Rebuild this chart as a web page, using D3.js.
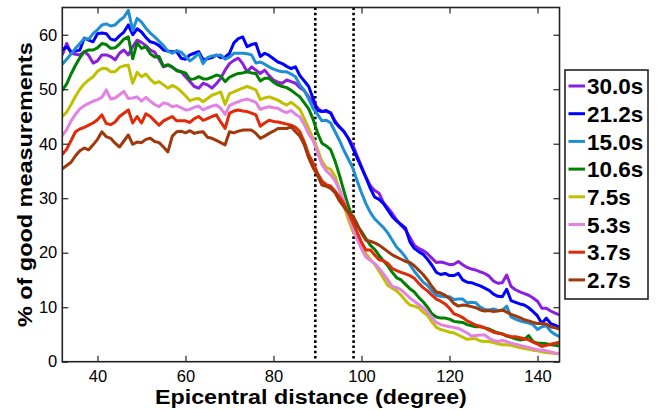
<!DOCTYPE html>
<html>
<head>
<meta charset="utf-8">
<script src="https://cdn.jsdelivr.net/npm/d3@7/dist/d3.min.js"></script>
<style>
	html, body { margin: 0; padding: 0; background: #fff; }
	svg { display: block; font-family: "Liberation Sans", Arial, sans-serif; }
	.tick text { font-size: 16.5px; fill: #000; }
	.tick line { stroke: #222; stroke-width: 1.2; }
</style>
</head>
<body>
<div id="chart"></div>
<script>
	// epicentral distance (degree), one bin per degree
	var distance = [
		32, 33, 34, 35, 36, 37, 38, 39, 40, 41,
		42, 43, 44, 45, 46, 47, 48, 49, 50, 51,
		52, 53, 54, 55, 56, 57, 58, 59, 60, 61,
		62, 63, 64, 65, 66, 67, 68, 69, 70, 71,
		72, 73, 74, 75, 76, 77, 78, 79, 80, 81,
		82, 83, 84, 85, 86, 87, 88, 89, 90, 91,
		92, 93, 94, 95, 96, 97, 98, 99, 100, 101,
		102, 103, 104, 105, 106, 107, 108, 109, 110, 111,
		112, 113, 114, 115, 116, 117, 118, 119, 120, 121,
		122, 123, 124, 125, 126, 127, 128, 129, 130, 131,
		132, 133, 134, 135, 136, 137, 138, 139, 140, 141,
		142, 143, 144, 145
	];

	var periods = ["30.0s", "21.2s", "15.0s", "10.6s", "7.5s", "5.3s", "3.7s", "2.7s"];
	var colors = ["#8a1fe0", "#0000ff", "#1f8fd2", "#008000", "#c0c000", "#e482e4", "#e02a08", "#a0380c"];

	var good30 = [
		56.3, 58.4, 56.6, 56.4, 56.3, 56.9, 56.2, 54.8, 55.2, 56.3,
		56.3, 56, 55.4, 56.6, 57.2, 56.3, 57.8, 59, 58.6, 58,
		57.2, 56.8, 55.5, 54.1, 54.4, 54, 53.5, 53.2, 52.3, 51.4,
		50.5, 50.2, 51.1, 50.8, 50.2, 51, 52, 53.5, 54.7, 55.3,
		55.7, 54.7, 53.2, 54.1, 53.5, 52.9, 53.5, 52.5, 51.7, 51.3,
		51.1, 51.7, 51.4, 51.1, 50.3, 49.7, 48.6, 47.5, 46.6, 45.9,
		45.9, 45.7, 44.2, 43, 42.3, 41, 39.8, 37.8, 35.8, 33.9,
		32.3, 31.4, 30.9, 29.2, 28.2, 27.2, 26, 25, 24.2, 22.8,
		21.4, 20.8, 20.4, 19.8, 19, 18.2, 18.3, 18.1, 17.8, 17.9,
		18.4, 17.8, 17.3, 17, 16.8, 16.5, 16.2, 15.7, 14.8, 14.4,
		14.5, 15.9, 13.8, 13.2, 12.8, 12.5, 12.2, 11.7, 11.1, 9.8,
		9.8, 9.3, 8.9, 8.6
	];
	var good21 = [
		57.2, 57.8, 56.9, 57, 57.2, 59.4, 59, 58.7, 60.2, 60.3,
		60.2, 59.2, 59, 59.8, 60.5, 61.8, 60, 61.1, 60.5, 59.5,
		58.7, 58.5, 58, 57.2, 57, 56.9, 56.9, 55.7, 55.5, 56.3,
		56.6, 56.9, 55.4, 55.6, 55.8, 56.3, 55.8, 55.9, 56.6, 58.5,
		59.3, 59.6, 57.8, 58.2, 58.4, 56, 56.6, 56.2, 55.6, 55,
		54.7, 54.2, 53.8, 54.1, 52.5, 51.5, 50.5, 48.3, 46.1, 45.9,
		46.1, 45.6, 43.9, 43.1, 42.2, 41, 39.2, 37.4, 35.6, 33.8,
		31.8, 30.2, 29.8, 29, 27.8, 26.6, 25.8, 25.2, 24.5, 22,
		20.8, 20.2, 19.7, 18.8, 17.7, 16.4, 16, 16.2, 15.8, 15.8,
		16.2, 15, 14.6, 14.5, 14.2, 13.9, 13.5, 13.1, 12.4, 12,
		11.9, 13.3, 11.2, 10.9, 10.6, 10.4, 9.9, 9.2, 8.4, 7,
		8, 7, 6.7, 6.3
	];
	var good15 = [
		54.6, 55.5, 56.5, 57.5, 58.4, 59.3, 59.2, 60.2, 60.9, 61.8,
		62, 61.6, 61.8, 62.6, 63.2, 64.5, 60.8, 63, 62.3, 61.2,
		60.3, 59.6, 58.8, 58, 57, 56.6, 57.1, 56.8, 56, 55.2,
		55.8, 56.6, 54.7, 55.8, 56.1, 56.2, 56.3, 55.5, 55.9, 56.6,
		56.6, 56.6, 56.5, 56.3, 54.8, 55, 54.6, 54.1, 53.7, 53.4,
		53.2, 53.2, 52.8, 52.3, 50.8, 49.8, 48.2, 46.5, 45.4, 44.2,
		44.3, 43.8, 42.2, 40.6, 38.8, 37.2, 35.6, 33.2, 31, 29,
		27.4, 26.2, 25.4, 24.6, 23.6, 22.3, 21, 20.2, 19.2, 17.8,
		16.6, 15.6, 14.6, 14, 13, 12.2, 12, 11.9, 11.9, 11.4,
		11.5, 11.5, 10.8, 10.9, 10.8, 10, 9.6, 9.5, 9.7, 9.4,
		9.4, 10.2, 8.2, 7.8, 7.5, 7.3, 7.1, 6.8, 5.9, 6.4,
		6.6, 5.6, 5, 4.6
	];
	var good10 = [
		49.8, 51, 52.8, 54.4, 55.8, 56.9, 57.2, 57.2, 57.6, 58.4,
		58.2, 57.5, 57.6, 58.3, 59.2, 59.6, 55.6, 58.5, 57.5, 57.8,
		56.5, 55.9, 56, 54.2, 54.5, 54.1, 53.4, 53.2, 53, 51.8,
		51.9, 52.3, 51.9, 51.9, 52.2, 52.6, 52.4, 51.4, 52.2, 52.6,
		52.9, 53, 53.2, 53, 52.9, 51.5, 52, 52, 51.3, 50.8,
		50.5, 50.3, 49.8, 49.2, 48.6, 47.5, 46.4, 44.5, 42, 40.1,
		39.6, 38.9, 36.8, 34.2, 31.3, 28.6, 26.3, 24.9, 23.9, 22.6,
		21.4, 20.6, 19.5, 18.5, 17.6, 16.4, 15.4, 15, 14.2, 13.4,
		12.8, 11.8, 11, 10, 8.8, 8.2, 8, 8, 7.8, 7.4,
		7.3, 7.2, 6.8, 6.6, 6.4, 6.4, 6.2, 6, 5.6, 5.3,
		5.1, 4.7, 4.5, 4.2, 4, 4.1, 4.8, 3.7, 3.4, 3.4,
		3.3, 3.1, 3, 2.9
	];
	var good7 = [
		45, 45.8, 47.2, 48.7, 50, 51, 51.7, 52.3, 53.3, 53.8,
		53.8, 53.2, 53.2, 54, 54.3, 54.4, 51.1, 53.1, 52.3, 52.8,
		51.8, 51.1, 51.4, 50.8, 50.2, 50.7, 50.3, 49.6, 48.8, 47.9,
		48.2, 48.3, 47.7, 48.3, 48.9, 49.2, 49.5, 47.2, 49.2, 49.5,
		49.9, 50.2, 50.5, 50.2, 49.9, 48.1, 48.4, 48.6, 48.3, 48,
		47.5, 47.1, 47.6, 47, 46.3, 44.6, 42.8, 41, 39, 36.8,
		35.6, 35.3, 34, 31.5, 28.8, 26.1, 24, 22.8, 21.3, 19.8,
		18.8, 17.9, 16.6, 15.3, 14, 13.5, 13, 12.2, 11.2, 10.4,
		10.2, 9.9, 9.1, 8.5, 7.3, 6.3, 5.9, 5.7, 5.4, 5.3,
		4.9, 4.5, 4.1, 4.2, 4.2, 3.8, 3.7, 3.7, 3.5, 3.3,
		3.1, 3.1, 3, 2.8, 2.6, 2.4, 2.3, 2.1, 2, 1.8,
		1.7, 1.6, 1.5, 1.4
	];
	var good5 = [
		41.5, 42.6, 44.2, 45.4, 46.4, 47, 47.4, 47.8, 48.1, 48.5,
		49.9, 48.2, 48.4, 49, 49.6, 48.3, 48.4, 48.6, 47.8, 48.5,
		47.8, 47.2, 46.8, 47.5, 47.3, 46.8, 47, 46.6, 46.2, 46.3,
		46.7, 46.9, 46.2, 46.6, 46.9, 47.1, 46.5, 45.4, 47, 47.4,
		47.7, 48, 48.2, 47.9, 47.6, 46.3, 46.6, 46.8, 46.6, 46.5,
		46, 45.7, 46.1, 45.4, 44.9, 43.5, 41.8, 40.6, 38.4, 36.2,
		35, 34.3, 33.2, 31.6, 29.5, 27, 24.6, 22.5, 20.7, 19.2,
		18.6, 18, 17.1, 16.1, 15, 13.8, 13.6, 13.2, 12.5, 11.7,
		11.1, 10.5, 9.9, 9.1, 8.1, 7.2, 6.8, 6.6, 6.4, 6.3,
		6.1, 5.7, 5.3, 4.7, 4.8, 4.9, 4.9, 4.3, 3.9, 3.7,
		3.9, 3.7, 3.4, 3.2, 3, 2.8, 2.6, 2.4, 2.2, 2.1,
		2, 1.8, 1.6, 1.5
	];
	var good3 = [
		38, 39, 40.6, 42.2, 42.7, 43, 43.4, 43.8, 44.4, 45.3,
		43.7, 43.5, 44, 45, 45.6, 46.2, 43.8, 45, 43.8, 45.5,
		45, 44.2, 43.4, 44.2, 44.6, 45, 44.2, 44.2, 44.2, 43.9,
		44.6, 45, 44.3, 44.6, 45, 45.3, 44, 42.8, 45.6, 46,
		46.2, 46, 45.9, 45.6, 45.3, 43.2, 43.8, 44.3, 44.1, 44,
		43.8, 43.6, 43.4, 43, 42.2, 40.3, 38, 36.5, 34.6, 33.2,
		32.5, 32.2, 31.3, 30.2, 29, 27.4, 25.6, 23.8, 21.9, 20.5,
		20.5, 19.6, 18.7, 18.5, 18, 17.1, 16.7, 16.4, 16.1, 15.8,
		15.3, 14.4, 13.6, 13, 12.2, 11.5, 11.1, 10.6, 9.8, 8.8,
		8.5, 8.1, 7.5, 7.1, 6.7, 6.5, 6.2, 5.8, 5.4, 5.2,
		5.1, 4.8, 4.6, 4.6, 4.4, 4.2, 4, 3.6, 3.2, 2.8,
		3, 3.2, 3.4, 3.6
	];
	var good2 = [
		35.4, 36, 36.6, 37.8, 38.7, 39.2, 38.9, 39.8, 40.8, 42.2,
		41.3, 41, 40.1, 39.4, 40.5, 41.6, 39.9, 40.3, 40.2, 40.8,
		41, 40.4, 40.2, 39.4, 38.5, 41.4, 42.2, 42.3, 42, 42.4,
		41.9, 42.1, 42.2, 41.2, 41, 40.6, 40.2, 39.8, 42.2, 42,
		42.3, 42.5, 42.5, 42.5, 41.9, 41, 41.4, 41.9, 42.3, 42.8,
		42.8, 42.8, 43.1, 42.2, 41.4, 39.8, 37.4, 35.6, 34.2, 32.4,
		32.2, 31.8, 31, 29.5, 28.4, 27.4, 26.8, 25.3, 23.6, 22.3,
		22.1, 21.8, 21.4, 20.8, 20.2, 19.6, 19.2, 18.8, 18.4, 18.2,
		17.6, 16.8, 16, 15, 13.8, 12.8, 12.6, 12.2, 11.6, 10.7,
		10.2, 10.4, 10.3, 10.1, 9.9, 9.5, 9.3, 9.4, 9.2, 9.3,
		9.5, 9.1, 8.7, 8.4, 8.1, 7.7, 7.5, 7.2, 7, 7,
		6.9, 6.4, 6.2, 6
	];

	var xTicks = [40, 60, 80, 100, 120, 140];
	var yTicks = [0, 10, 20, 30, 40, 50, 60];
	// the two dotted marker distances
	var markers = [89.5, 98.2];

	var series = [good30, good21, good15, good10, good7, good5, good3, good2];

	var width = 659, height = 410;
	var margin = {top: 7.5, right: 99.5, bottom: 48.3, left: 62.3};
	var w = width - margin.left - margin.right,
		h = height - margin.top - margin.bottom;

	var x = d3.scaleLinear().domain([32, 145]).range([0, w]);
	var y = d3.scaleLinear().domain([0, 65]).range([h, 0]);

	var svg = d3.select("#chart").append("svg")
		.attr("width", width)
		.attr("height", height);

	var g = svg.append("g")
		.attr("transform", "translate(" + margin.left + "," + margin.top + ")");

	// clip the lines to the plot box
	g.append("clipPath").attr("id", "plotClip")
		.append("rect").attr("width", w).attr("height", h);

	// dotted vertical markers
	g.selectAll(".marker")
		.data(markers)
		.enter().append("line")
		.attr("class", "marker")
		.attr("x1", function(d) { return x(d); })
		.attr("x2", function(d) { return x(d); })
		.attr("y1", 0)
		.attr("y2", h)
		.attr("stroke", "#000")
		.attr("stroke-width", 2.6)
		.attr("stroke-dasharray", "2.6,2.6");

	var valueline = d3.line()
		.x(function(d, i) { return x(distance[i]); })
		.y(function(d) { return y(d); });

	// series lines, drawn in legend order
	g.append("g")
		.attr("clip-path", "url(#plotClip)")
		.selectAll("path")
		.data(series)
		.enter().append("path")
		.attr("fill", "none")
		.attr("stroke", function(d, i) { return colors[i]; })
		.attr("stroke-width", 3)
		.attr("stroke-linejoin", "round")
		.attr("d", valueline);

	// axes with inward ticks on all four sides
	g.append("g")
		.attr("transform", "translate(0," + h + ")")
		.call(d3.axisBottom(x).tickValues(xTicks).tickSizeInner(-6).tickSizeOuter(0).tickPadding(8.5))
		.call(function(a) { a.select(".domain").remove(); });

	g.append("g")
		.call(d3.axisTop(x).tickValues(xTicks).tickSizeInner(-6).tickSizeOuter(0).tickFormat(""))
		.call(function(a) { a.select(".domain").remove(); });

	g.append("g")
		.call(d3.axisLeft(y).tickValues(yTicks).tickSizeInner(-6).tickSizeOuter(0).tickPadding(5))
		.call(function(a) { a.select(".domain").remove(); });

	g.append("g")
		.attr("transform", "translate(" + w + ",0)")
		.call(d3.axisRight(y).tickValues(yTicks).tickSizeInner(-6).tickSizeOuter(0).tickFormat(""))
		.call(function(a) { a.select(".domain").remove(); });

	g.selectAll(".tick text").attr("font-family", null).attr("font-size", null);

	// frame
	g.append("rect")
		.attr("width", w)
		.attr("height", h)
		.attr("fill", "none")
		.attr("stroke", "#222")
		.attr("stroke-width", 1.6);

	// axis titles, stretched to the width they take in the reference
	svg.append("text")
		.attr("x", margin.left + w / 2)
		.attr("y", 404)
		.attr("text-anchor", "middle")
		.attr("font-weight", "bold")
		.attr("font-size", 19.5)
		.attr("textLength", 312)
		.attr("lengthAdjust", "spacingAndGlyphs")
		.text("Epicentral distance (degree)");

	svg.append("text")
		.attr("transform", "translate(32," + (margin.top + h / 2) + ") rotate(-90)")
		.attr("text-anchor", "middle")
		.attr("font-weight", "bold")
		.attr("font-size", 20)
		.attr("textLength", 285)
		.attr("lengthAdjust", "spacingAndGlyphs")
		.text("% of good measurements");

	// legend
	var legend = svg.append("g").attr("transform", "translate(565,70)");
	legend.append("rect")
		.attr("width", 83)
		.attr("height", 229)
		.attr("fill", "#fff")
		.attr("stroke", "#222")
		.attr("stroke-width", 1.6);

	var item = legend.selectAll(".item")
		.data(periods)
		.enter().append("g")
		.attr("class", "item")
		.attr("transform", function(d, i) { return "translate(0," + (16 + i * 27.7) + ")"; });

	item.append("line")
		.attr("x1", 3.5)
		.attr("x2", 20)
		.attr("stroke", function(d, i) { return colors[i]; })
		.attr("stroke-width", 3);

	item.append("text")
		.attr("x", 22)
		.attr("dy", "0.36em")
		.attr("font-weight", "bold")
		.attr("font-size", 22.5)
		.text(function(d) { return d; });
</script>
</body>
</html>
